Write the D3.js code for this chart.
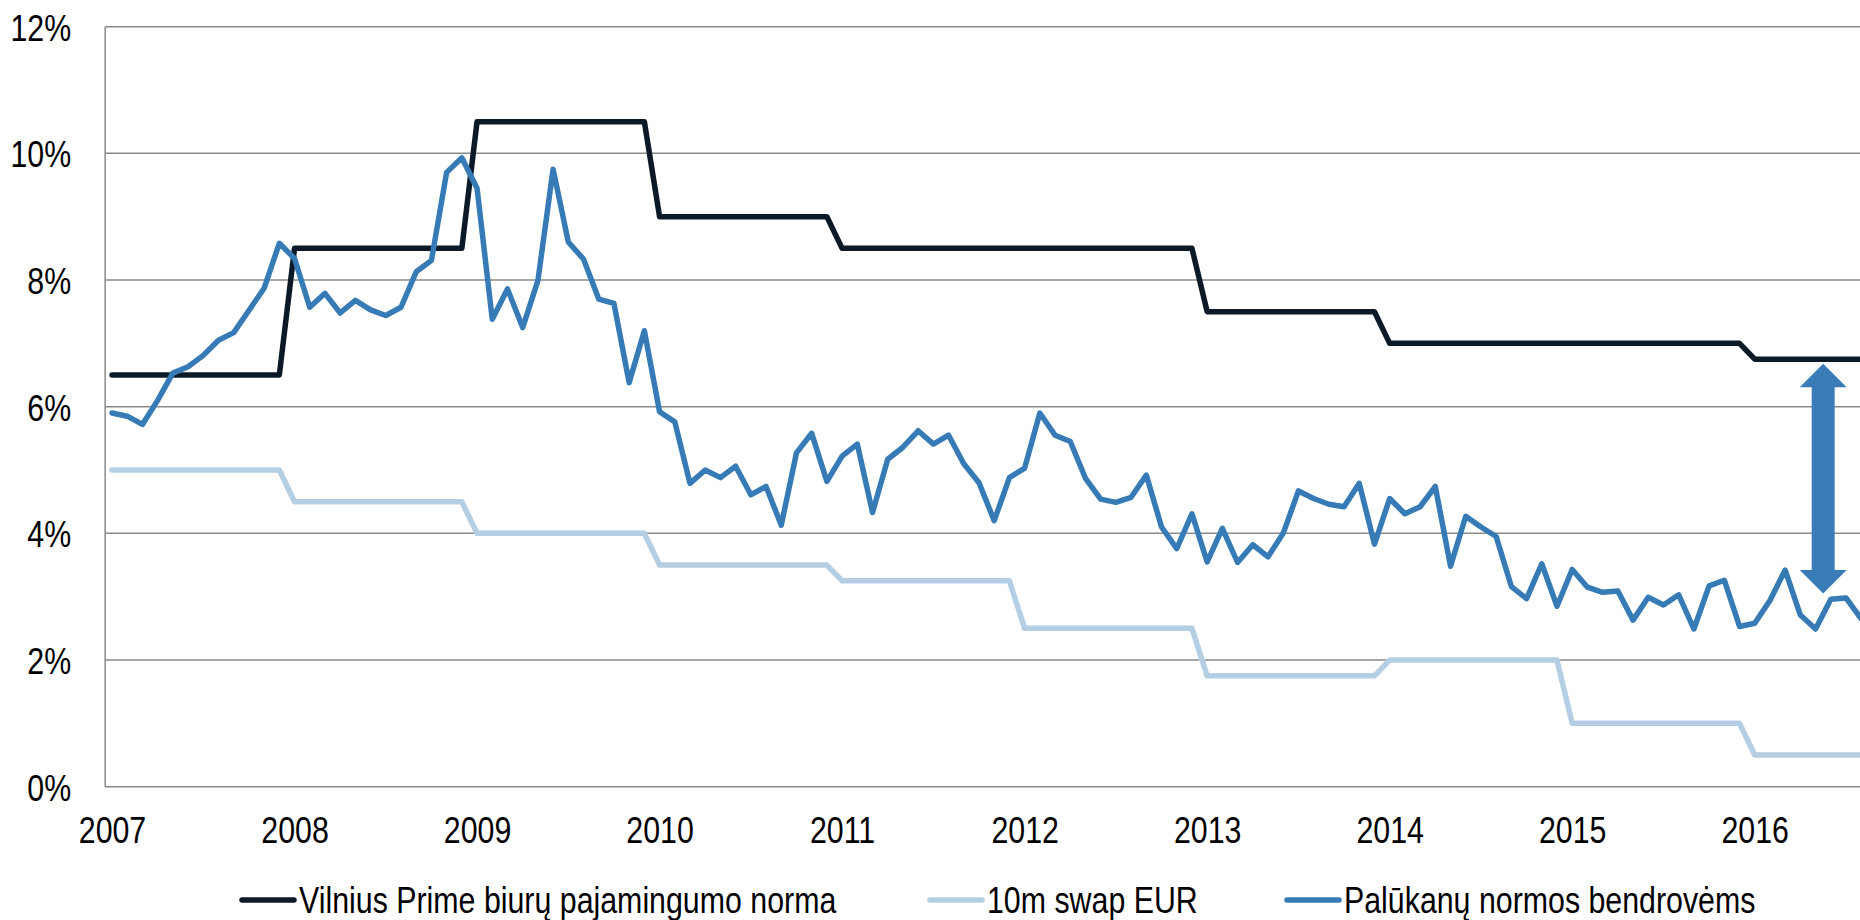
<!DOCTYPE html>
<html>

<head>
  <meta charset="utf-8">
  <title>Vilnius Prime</title>

  <style>
    body {
      margin: 0;
      background: #fff;
    }

    svg {
      display: block;
      font-family: "Liberation Sans", Arial, sans-serif;
    }

    .grid line {
      stroke: #8a8a8a;
      stroke-width: 1.5px;
    }

    .axis text,
    .legend text {
      font-size: 37px;
      fill: #000;
    }

    .series {
      fill: none;
      stroke-width: 5.5px;
      stroke-linejoin: round;
      stroke-linecap: round;
    }
  </style>
</head>

<body>
  <svg width="1860" height="920"></svg>

  <script src="https://cdn.jsdelivr.net/npm/d3@7"></script>

  <script>
    // monthly values, Jan 2007 .. Aug 2016
    var years = ['2007', '2008', '2009', '2010', '2011', '2012', '2013', '2014', '2015', '2016'];

    var primeYield = [
      6.5, 6.5, 6.5, 6.5, 6.5, 6.5, 6.5, 6.5, 6.5, 6.5, 6.5, 6.5,
      8.5, 8.5, 8.5, 8.5, 8.5, 8.5, 8.5, 8.5, 8.5, 8.5, 8.5, 8.5,
      10.5, 10.5, 10.5, 10.5, 10.5, 10.5, 10.5, 10.5, 10.5, 10.5, 10.5, 10.5,
      9.0, 9.0, 9.0, 9.0, 9.0, 9.0, 9.0, 9.0, 9.0, 9.0, 9.0, 9.0,
      8.5, 8.5, 8.5, 8.5, 8.5, 8.5, 8.5, 8.5, 8.5, 8.5, 8.5, 8.5,
      8.5, 8.5, 8.5, 8.5, 8.5, 8.5, 8.5, 8.5, 8.5, 8.5, 8.5, 8.5,
      7.5, 7.5, 7.5, 7.5, 7.5, 7.5, 7.5, 7.5, 7.5, 7.5, 7.5, 7.5,
      7.0, 7.0, 7.0, 7.0, 7.0, 7.0, 7.0, 7.0, 7.0, 7.0, 7.0, 7.0,
      7.0, 7.0, 7.0, 7.0, 7.0, 7.0, 7.0, 7.0, 7.0, 7.0, 7.0, 7.0,
      6.75, 6.75, 6.75, 6.75, 6.75, 6.75, 6.75, 6.75
    ];

    var swapEur = [
      5.0, 5.0, 5.0, 5.0, 5.0, 5.0, 5.0, 5.0, 5.0, 5.0, 5.0, 5.0,
      4.5, 4.5, 4.5, 4.5, 4.5, 4.5, 4.5, 4.5, 4.5, 4.5, 4.5, 4.5,
      4.0, 4.0, 4.0, 4.0, 4.0, 4.0, 4.0, 4.0, 4.0, 4.0, 4.0, 4.0,
      3.5, 3.5, 3.5, 3.5, 3.5, 3.5, 3.5, 3.5, 3.5, 3.5, 3.5, 3.5,
      3.25, 3.25, 3.25, 3.25, 3.25, 3.25, 3.25, 3.25, 3.25, 3.25, 3.25, 3.25,
      2.5, 2.5, 2.5, 2.5, 2.5, 2.5, 2.5, 2.5, 2.5, 2.5, 2.5, 2.5,
      1.75, 1.75, 1.75, 1.75, 1.75, 1.75, 1.75, 1.75, 1.75, 1.75, 1.75, 1.75,
      2.0, 2.0, 2.0, 2.0, 2.0, 2.0, 2.0, 2.0, 2.0, 2.0, 2.0, 2.0,
      1.0, 1.0, 1.0, 1.0, 1.0, 1.0, 1.0, 1.0, 1.0, 1.0, 1.0, 1.0,
      0.5, 0.5, 0.5, 0.5, 0.5, 0.5, 0.5, 0.5
    ];

    var companyRates = [
      5.90, 5.85, 5.72, 6.10, 6.53, 6.63, 6.81, 7.05, 7.17, 7.52, 7.87, 8.58,
      8.34, 7.57, 7.79, 7.48, 7.68, 7.53, 7.44, 7.57, 8.13, 8.31, 9.70, 9.93,
      9.45, 7.38, 7.86, 7.25, 7.99, 9.75, 8.60, 8.33, 7.70, 7.63, 6.38, 7.20,
      5.92, 5.76, 4.79, 5.00, 4.88, 5.06, 4.61, 4.74, 4.13, 5.27, 5.58, 4.82,
      5.22, 5.41, 4.33, 5.17, 5.36, 5.62, 5.41, 5.55, 5.10, 4.80, 4.20, 4.88,
      5.03, 5.90, 5.55, 5.45, 4.87, 4.54, 4.49, 4.57, 4.92, 4.10, 3.76, 4.31,
      3.55, 4.08, 3.54, 3.82, 3.63, 4.00, 4.67, 4.55, 4.46, 4.42, 4.79, 3.83,
      4.55, 4.31, 4.42, 4.74, 3.48, 4.27, 4.10, 3.95, 3.16, 2.97, 3.52, 2.85,
      3.43, 3.15, 3.07, 3.09, 2.63, 2.99, 2.87, 3.03, 2.49, 3.17, 3.26, 2.53,
      2.58, 2.94, 3.42, 2.71, 2.49, 2.96, 2.98, 2.65
    ];

    var yTicks = [0, 2, 4, 6, 8, 10, 12];

    var seriesNames = ['Vilnius Prime biurų pajamingumo norma', '10m swap EUR', 'Palūkanų normos bendrovėms'];
    var seriesColors = ['#0c1a28', '#b4cee4', '#377bb6'];

    // the gap annotation: month index and the two percent ends of the arrow
    var gapMonth = 112.5;
    var gapFrom = 6.68;
    var gapTo = 3.05;

    var svg = d3.select('svg');

    // month index -> x, the plot runs off the right edge like the original
    var x = d3.scaleLinear().domain([0, 114]).range([112, 1846]);
    var y = d3.scaleLinear().domain([0, 12]).range([786.7, 26.7]);
    var plotLeft = x(-0.45);

    // no narrow font installed: squeeze Liberation Sans to Arial Narrow width
    function narrow(selection) {
      selection.each(function() {
        var t = d3.select(this);
        var tx = +t.attr('x') || 0;
        var ty = +t.attr('y') || 0;
        t.attr('x', 0).attr('y', 0)
          .attr('transform', 'translate(' + tx + ',' + ty + ') scale(0.82,1)');
      });
    }

    // horizontal gridlines
    svg.append('g')
      .attr('class', 'grid')
      .selectAll('line')
      .data(yTicks)
      .join('line')
      .attr('x1', plotLeft)
      .attr('x2', 1860)
      .attr('y1', function(d) { return y(d); })
      .attr('y2', function(d) { return y(d); });

    // vertical axis line
    svg.append('g')
      .attr('class', 'grid')
      .append('line')
      .attr('x1', plotLeft)
      .attr('x2', plotLeft)
      .attr('y1', y(12))
      .attr('y2', y(0));

    // y axis labels
    var yAxis = svg.append('g')
      .attr('class', 'axis')
      .attr('transform', 'translate(' + plotLeft + ',0)')
      .call(d3.axisLeft(y).tickValues(yTicks).tickSize(0).tickPadding(34)
        .tickFormat(function(d) { return d + '%'; }));
    yAxis.select('.domain').remove();
    yAxis.selectAll('text').attr('dy', '0.36em').call(narrow);

    // x axis labels, one per January
    var xAxis = svg.append('g')
      .attr('class', 'axis')
      .attr('transform', 'translate(0,' + y(0) + ')')
      .call(d3.axisBottom(x).tickValues(years.map(function(d, i) { return i * 12; }))
        .tickSize(0).tickPadding(30)
        .tickFormat(function(d) { return years[d / 12]; }));
    xAxis.select('.domain').remove();
    xAxis.selectAll('text').call(narrow);

    var line = d3.line()
      .x(function(d, i) { return x(i); })
      .y(function(d) { return y(d); });

    [primeYield, swapEur, companyRates].forEach(function(values, k) {
      svg.append('path')
        .attr('class', 'series')
        .attr('d', line(values))
        .attr('stroke', seriesColors[k]);
    });

    // double headed arrow showing the gap
    var ax = x(gapMonth);
    var yTop = y(gapFrom);
    var yBot = y(gapTo);
    var headW = 23.5;
    var headH = 23.5;
    var shaftW = 11.5;
    var arrowPts = [
      [ax, yTop],
      [ax + headW, yTop + headH],
      [ax + shaftW, yTop + headH],
      [ax + shaftW, yBot - headH],
      [ax + headW, yBot - headH],
      [ax, yBot],
      [ax - headW, yBot - headH],
      [ax - shaftW, yBot - headH],
      [ax - shaftW, yTop + headH],
      [ax - headW, yTop + headH]
    ];
    svg.append('path')
      .attr('d', d3.line()(arrowPts) + 'Z')
      .attr('fill', '#3a7db6');

    // legend along the bottom
    var legendX = [242, 930, 1287];
    var legend = svg.append('g')
      .attr('class', 'legend')
      .selectAll('g')
      .data(seriesNames)
      .join('g')
      .attr('transform', function(d, i) { return 'translate(' + legendX[i] + ',900)'; });

    legend.append('line')
      .attr('x1', 0)
      .attr('x2', 52)
      .attr('stroke', function(d, i) { return seriesColors[i]; })
      .attr('stroke-width', 5.5)
      .attr('stroke-linecap', 'round');

    legend.append('text')
      .attr('x', 57)
      .attr('dy', '0.35em')
      .text(function(d) { return d; })
      .call(narrow);
  </script>
</body>

</html>
